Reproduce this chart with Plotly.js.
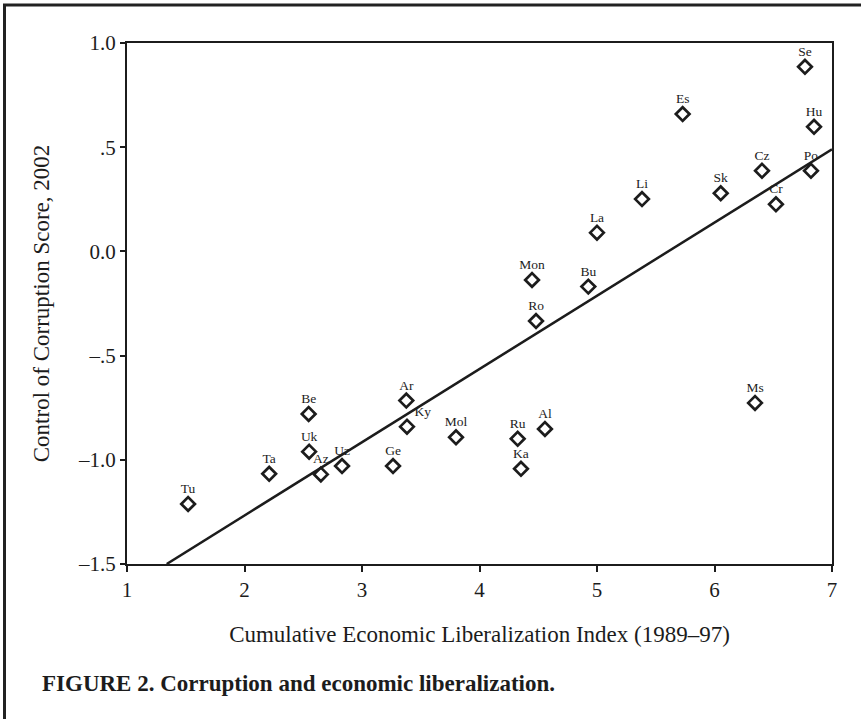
<!DOCTYPE html>
<html>
<head>
<meta charset="utf-8">
<script src="https://cdn.plot.ly/plotly-3.0.1.min.js"></script>
<style>
  html, body { margin: 0; padding: 0; background: #fff; overflow: hidden; }
  #chart { width: 861px; height: 719px; }
</style>
</head>
<body>
<div id="chart"></div>
<script>
// Countries (labels), liberalization index (x) and corruption control score (y)
const countries = ["Tu","Ta","Be","Uk","Az","Uz","Ge","Ar","Ky","Mol","Ru","Ka","Al","Mon","Ro","Bu","La","Li","Es","Sk","Cz","Cr","Ms","Se","Po","Hu"];
const libIndex  = [1.52, 2.21, 2.546, 2.55, 2.65, 2.83, 3.264, 3.377, 3.383, 3.80, 4.325, 4.353, 4.557, 4.447, 4.481, 4.926, 5.00, 5.383, 5.729, 6.053, 6.404, 6.523, 6.345, 6.77, 6.821, 6.847];
const corruption = [-1.212, -1.067, -0.780, -0.961, -1.070, -1.030, -1.030, -0.716, -0.841, -0.892, -0.899, -1.043, -0.852, -0.137, -0.334, -0.169, 0.090, 0.251, 0.659, 0.279, 0.387, 0.226, -0.727, 0.886, 0.387, 0.598];
const labelPos = ["top center","top center","top center","top center","top center","top center","top center","top center","top right","top center","top center","top center","top center","top center","top center","top center","top center","top center","top center","top center","top center","top center","top center","top center","top center","top center"];

// Fitted regression line end points
const fitX = [1.338, 7.0];
const fitY = [-1.5, 0.49];

// Axis ticks
const xTickVals = [1, 2, 3, 4, 5, 6, 7];
const xTickText = ["1", "2", "3", "4", "5", "6", "7"];
const yTickVals = [1.0, 0.5, 0.0, -0.5, -1.0, -1.5];
const yTickText = ["1.0", ".5", "0.0", "\u2013.5", "\u20131.0", "\u20131.5"];

const ink = "#1c1c1c";
const serif = "Liberation Serif, Times New Roman, serif";

const traces = [
  {
    x: fitX, y: fitY, mode: "lines", type: "scatter",
    line: { color: ink, width: 2.5 }, hoverinfo: "skip", showlegend: false
  },
  {
    x: libIndex, y: corruption, text: countries, type: "scatter",
    mode: "markers+text", textposition: labelPos,
    textfont: { family: serif, size: 13.5, color: ink },
    marker: { symbol: "diamond-open", size: 10.5, color: ink, line: { color: ink, width: 2.7 } },
    cliponaxis: false, showlegend: false
  }
];

// geometry of the plot area in pixels (for paper-referenced decorations)
const W = 861, H = 719, L = 127, R = 29, T = 43, B = 155;
const pw = W - L - R, ph = H - T - B;
const px = v => (v - L) / pw;
const py = v => (H - B - v) / ph;

const layout = {
  width: W, height: H,
  margin: { l: L, r: R, t: T, b: B },
  paper_bgcolor: "#fff", plot_bgcolor: "#fff",
  font: { family: serif, color: ink },
  showlegend: false,
  xaxis: {
    range: [1, 7], tickvals: xTickVals, ticktext: xTickText,
    showgrid: false, zeroline: false,
    showline: true, mirror: true, linecolor: ink, linewidth: 2,
    ticks: "outside", ticklen: 6, tickwidth: 2, tickcolor: ink,
    tickfont: { family: serif, size: 21, color: ink },
    ticklabelstandoff: 0,
    title: { text: "Cumulative Economic Liberalization Index (1989\u201397)", font: { family: serif, size: 23, color: ink }, standoff: 25 },
    automargin: false
  },
  yaxis: {
    range: [-1.5, 1.0], tickvals: yTickVals, ticktext: yTickText,
    showgrid: false, zeroline: false,
    showline: true, mirror: true, linecolor: ink, linewidth: 2,
    ticks: "outside", ticklen: 5, tickwidth: 2, tickcolor: ink,
    tickfont: { family: serif, size: 21, color: ink },
    title: { text: "Control of Corruption Score, 2002", font: { family: serif, size: 23, color: ink }, standoff: 22 },
    automargin: false
  },
  annotations: [
    {
      text: "<b>FIGURE 2. Corruption and economic liberalization.</b>",
      xref: "paper", yref: "paper", x: px(40), y: py(683),
      xanchor: "left", yanchor: "middle", showarrow: false,
      font: { family: serif, size: 23, color: ink }
    }
  ],
  shapes: [
    { type: "line", xref: "paper", yref: "paper", x0: px(4.5), x1: px(4.5), y0: py(5), y1: py(730), line: { color: "#222", width: 3 } },
    { type: "line", xref: "paper", yref: "paper", x0: px(3), x1: px(870), y0: py(5), y1: py(5), line: { color: "#222", width: 3 } }
  ]
};

Plotly.newPlot("chart", traces, layout, { staticPlot: true, displayModeBar: false });
</script>
</body>
</html>
